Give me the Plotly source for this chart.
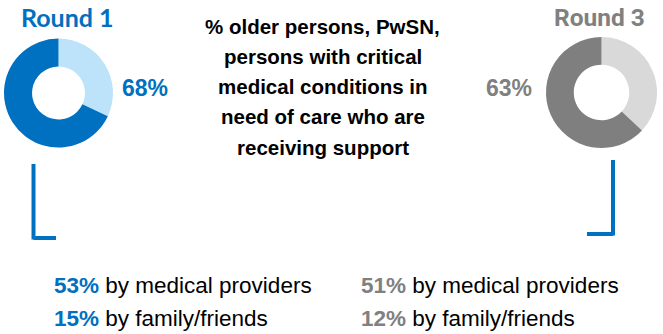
import plotly.graph_objects as go

# ---- data ----
rounds = ["Round 1", "Round 3"]
pct_supported = [68, 63]
pct_medical = [53, 51]
pct_family = [15, 12]
title_lines = ["% older persons, PwSN,", "persons with critical",
               "medical conditions in", "need of care who are",
               "receiving support"]

W, H = 663, 334
dark = ["#0070C0", "#7F7F7F"]
light = ["#BDE3FB", "#D9D9D9"]
label_col = ["#0070C0", "#808080"]

def px(x):
    return x / W

def py(y):
    return 1 - y / H

fig = go.Figure()

# donut geometry in pixels (center x, center y, radius)
geo = [(58.5, 93, 54.5), (601.5, 92.5, 55.5)]
holes = [0.485, 0.5]
for i in range(2):
    cx, cy, r = geo[i]
    fig.add_trace(go.Pie(
        values=[100 - pct_supported[i], pct_supported[i]],
        labels=["not supported", "supported"],
        marker=dict(colors=[light[i], dark[i]], line=dict(width=0)),
        hole=holes[i], sort=False, direction="clockwise", rotation=0,
        textinfo="none", hoverinfo="skip", showlegend=False,
        domain=dict(x=[px(cx - r), px(cx + r)], y=[py(cy + r), py(cy - r)]),
    ))

ann = []
bold_font = "Liberation Sans, Arial"
# round labels
ann.append(dict(x=px(67.5), y=py(17), text="<b>%s</b>" % rounds[0],
                font=dict(family="Lato", size=25, color=label_col[0])))
ann.append(dict(x=px(599.5), y=py(18), text="<b>%s</b>" % rounds[1],
                font=dict(family="Roboto", size=24.5, color=label_col[1])))
# percentages
ann.append(dict(x=px(144.5), y=py(88), text="<b>%d%%</b>" % pct_supported[0],
                font=dict(family=bold_font, size=23, color=label_col[0])))
ann.append(dict(x=px(508.5), y=py(88), text="<b>%d%%</b>" % pct_supported[1],
                font=dict(family=bold_font, size=23, color=label_col[1])))
# central title, one line each
for k, line in enumerate(title_lines):
    ann.append(dict(x=px(322.5), y=py(26 + 30.3 * k), text="<b>%s</b>" % line,
                    font=dict(family=bold_font, size=20.5, color="#000000")))
# bottom breakdown
starts = [52, 359]
for i in range(2):
    for j, (v, lab) in enumerate([(pct_medical[i], "by medical providers"),
                                  (pct_family[i], "by family/friends")]):
        ann.append(dict(
            x=px(starts[i]), y=py(285 + 33 * j), xanchor="left",
            text="<span style='color:%s'><b>%d%%</b></span> %s" % (label_col[i], v, lab),
            font=dict(family="Liberation Sans, Arial", size=22.5, color="#000000")))

for a in ann:
    a.setdefault("xanchor", "center")
    a.update(xref="paper", yref="paper", yanchor="middle", showarrow=False)

shapes = []
lc = "#0070C0"
# left bracket
shapes.append(dict(type="line", x0=px(33.5), x1=px(33.5), y0=py(164), y1=py(239.5)))
shapes.append(dict(type="line", x0=px(33.5), x1=px(56), y0=py(238), y1=py(238)))
# right bracket
shapes.append(dict(type="line", x0=px(613), x1=px(613), y0=py(160), y1=py(235.5)))
shapes.append(dict(type="line", x0=px(587), x1=px(613), y0=py(234), y1=py(234)))
for s in shapes:
    s.update(xref="paper", yref="paper", line=dict(color=lc, width=4))

fig.update_layout(width=W, height=H, margin=dict(l=0, r=0, t=0, b=0),
                  paper_bgcolor="white", plot_bgcolor="white",
                  annotations=ann, shapes=shapes)
fig.write_html("out.html")
